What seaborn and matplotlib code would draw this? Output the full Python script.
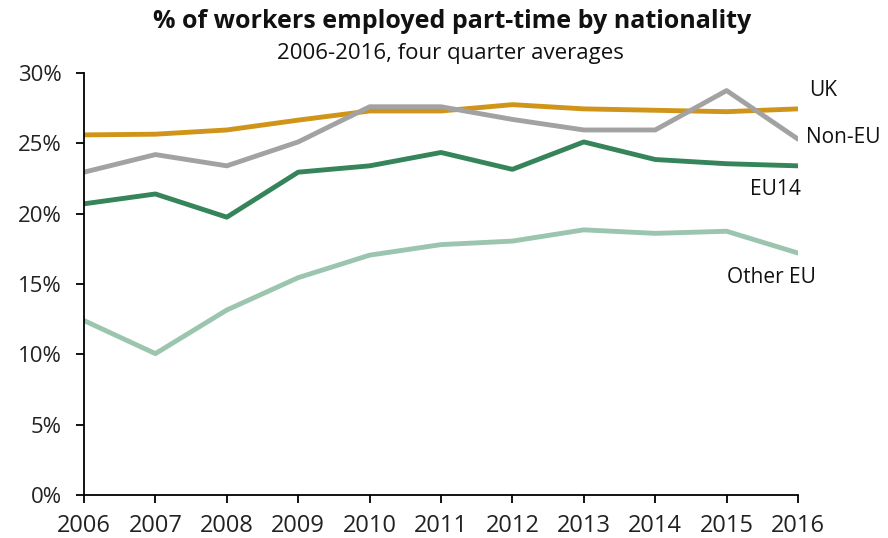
import matplotlib
matplotlib.use("Agg")
import matplotlib.pyplot as plt
import matplotlib.ticker as mticker
import seaborn as sns
import pandas as pd

years = list(range(2006, 2017))
uk = [25.6, 25.65, 25.95, 26.65, 27.3, 27.3, 27.75, 27.45, 27.35, 27.25, 27.45]
non_eu = [22.95, 24.2, 23.4, 25.1, 27.6, 27.6, 26.7, 25.95, 25.95, 28.75, 25.3]
eu14 = [20.7, 21.4, 19.75, 22.95, 23.4, 24.35, 23.15, 25.1, 23.85, 23.55, 23.4]
other_eu = [12.4, 10.05, 13.15, 15.45, 17.05, 17.8, 18.05, 18.85, 18.6, 18.75, 17.2]
series_names = ["UK", "Non-EU", "EU14", "Other EU"]
colors = ["#D09418", "#A2A2A2", "#35845A", "#9BC5AE"]
title = "% of workers employed part-time by nationality"
subtitle = "2006-2016, four quarter averages"

rows = []
for name, vals in zip(series_names, [uk, non_eu, eu14, other_eu]):
    for y, v in zip(years, vals):
        rows.append({"year": y, "value": v, "series": name})
df = pd.DataFrame(rows)

sns.set_theme(style="white")
plt.rcParams["font.family"] = ["Open Sans", "DejaVu Sans"]

fig = plt.figure(figsize=(8.88, 5.38), dpi=100)
ax = fig.add_axes([84 / 888, 1 - 495 / 538, (798 - 84) / 888, (495 - 73) / 538])

sns.lineplot(data=df, x="year", y="value", hue="series", hue_order=series_names,
             palette=dict(zip(series_names, colors)), linewidth=3.5, ax=ax,
             legend=False)

ax.set_xlim(2006, 2016)
ax.set_ylim(0, 30)
ax.set_xticks(years)
ax.set_yticks(range(0, 31, 5))
ax.yaxis.set_major_formatter(mticker.FuncFormatter(lambda v, p: f"{int(v)}%"))
ax.set_xlabel("")
ax.set_ylabel("")
for s in ["top", "right"]:
    ax.spines[s].set_visible(False)
for s in ["left", "bottom"]:
    ax.spines[s].set_color("black")
    ax.spines[s].set_linewidth(1.3)
ax.tick_params(axis="both", which="major", length=6, width=1.3, color="black",
               labelcolor="#222222", direction="out")
ax.tick_params(axis="y", pad=10, labelsize=16, left=True)
ax.tick_params(axis="x", pad=8, labelsize=17, bottom=True)

# series labels: (x position in years, offset from last value, alignment)
label_pos = {"UK": (2016.15, 1.31, "left"), "Non-EU": (2016.11, 0.14, "left"),
             "EU14": (2016.04, -1.66, "right"), "Other EU": (2015.63, -1.73, "center")}
for name, vals in zip(series_names, [uk, non_eu, eu14, other_eu]):
    lx, dy, ha = label_pos[name]
    ax.text(lx, vals[-1] + dy, name, fontsize=15, color="#111111",
            ha=ha, va="center", clip_on=False)

fig.text(452 / 888, 1 - 22 / 538, title, fontsize=18, fontweight="bold",
         ha="center", va="center", color="#111111")
fig.text(450 / 888, 1 - 53 / 538, subtitle, fontsize=16, ha="center",
         va="center", color="#111111")

fig.savefig("out.png", dpi=100)
